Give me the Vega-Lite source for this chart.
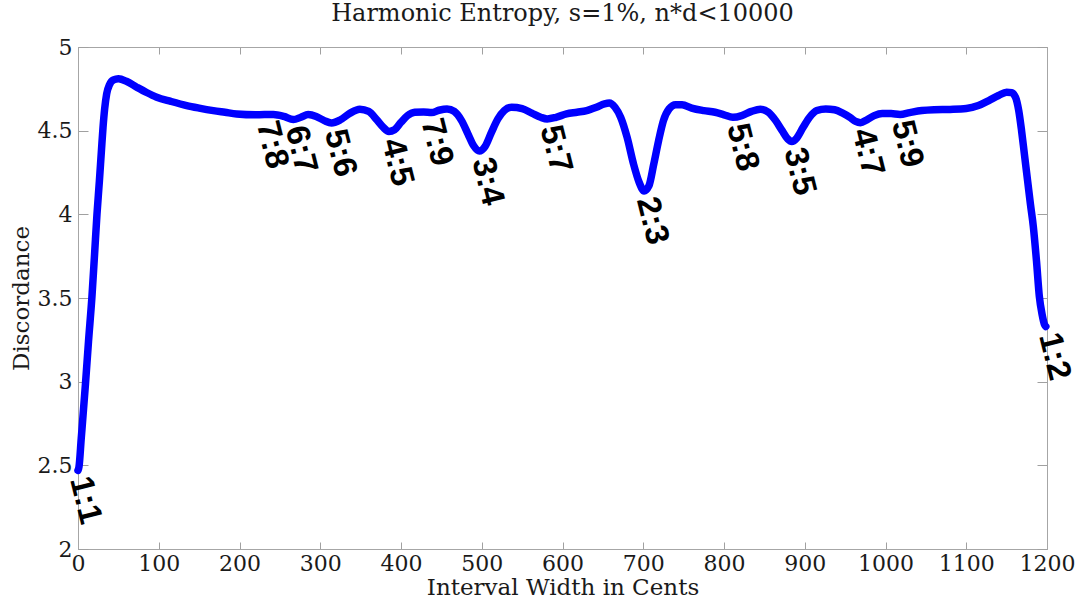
{
  "$schema": "https://vega.github.io/schema/vega-lite/v6.json",
  "width": 969,
  "height": 502,
  "autosize": "none",
  "padding": {"left": 78, "top": 47, "right": 38, "bottom": 54},
  "background": "white",
  "config": {
    "view": {"stroke": "#a6a6a6", "strokeWidth": 1},
    "axis": {
      "domainColor": "#a6a6a6",
      "tickColor": "#a0a0a0",
      "tickWidth": 1,
      "labelFont": "DejaVu Serif",
      "labelFontSize": 22,
      "labelColor": "#1a1a1a",
      "titleFont": "DejaVu Serif",
      "titleFontSize": 23,
      "titleFontWeight": "normal",
      "titleColor": "#1a1a1a",
      "grid": false
    }
  },
  "title": {
    "text": "Harmonic Entropy, s=1%, n*d<10000",
    "font": "DejaVu Serif",
    "fontSize": 24,
    "fontWeight": "normal",
    "color": "#1a1a1a",
    "anchor": "middle",
    "offset": 10
  },
  "datasets": {
    "curve": [
      {"c": 0, "v": 2.47}, {"c": 1.2, "v": 2.49}, {"c": 4, "v": 2.66}, {"c": 9.3, "v": 2.99},
      {"c": 13, "v": 3.24}, {"c": 17.3, "v": 3.51}, {"c": 20.5, "v": 3.76}, {"c": 23.5, "v": 4.0},
      {"c": 26.5, "v": 4.2}, {"c": 29, "v": 4.38}, {"c": 31, "v": 4.52}, {"c": 33, "v": 4.63},
      {"c": 35.5, "v": 4.72}, {"c": 39, "v": 4.775}, {"c": 44, "v": 4.803}, {"c": 50, "v": 4.81},
      {"c": 60, "v": 4.795}, {"c": 72.7, "v": 4.76}, {"c": 85, "v": 4.728}, {"c": 97.5, "v": 4.7},
      {"c": 115, "v": 4.675}, {"c": 134.6, "v": 4.65}, {"c": 150, "v": 4.635}, {"c": 167.6, "v": 4.62},
      {"c": 182, "v": 4.61}, {"c": 196.5, "v": 4.6}, {"c": 220, "v": 4.595}, {"c": 242, "v": 4.597},
      {"c": 255, "v": 4.585}, {"c": 266.7, "v": 4.566}, {"c": 276, "v": 4.58}, {"c": 285, "v": 4.596},
      {"c": 295, "v": 4.585}, {"c": 305, "v": 4.56}, {"c": 314, "v": 4.546}, {"c": 325, "v": 4.565},
      {"c": 337, "v": 4.605}, {"c": 349, "v": 4.628}, {"c": 360, "v": 4.615}, {"c": 370, "v": 4.565},
      {"c": 378, "v": 4.52}, {"c": 385, "v": 4.495}, {"c": 392, "v": 4.505}, {"c": 400, "v": 4.55},
      {"c": 408, "v": 4.59}, {"c": 417, "v": 4.61}, {"c": 428, "v": 4.612}, {"c": 438, "v": 4.608},
      {"c": 447, "v": 4.622}, {"c": 457, "v": 4.63}, {"c": 466, "v": 4.615}, {"c": 475, "v": 4.56},
      {"c": 483, "v": 4.48}, {"c": 490, "v": 4.41}, {"c": 497, "v": 4.378}, {"c": 504, "v": 4.405},
      {"c": 512, "v": 4.49}, {"c": 520, "v": 4.57}, {"c": 528, "v": 4.62}, {"c": 537, "v": 4.64},
      {"c": 550, "v": 4.632}, {"c": 562, "v": 4.605}, {"c": 573, "v": 4.58}, {"c": 581, "v": 4.57},
      {"c": 592, "v": 4.58}, {"c": 605, "v": 4.6}, {"c": 618, "v": 4.61}, {"c": 630, "v": 4.62},
      {"c": 642, "v": 4.64}, {"c": 652, "v": 4.66}, {"c": 658, "v": 4.665}, {"c": 665, "v": 4.64},
      {"c": 672, "v": 4.58}, {"c": 680, "v": 4.46}, {"c": 688, "v": 4.3}, {"c": 695, "v": 4.19},
      {"c": 701, "v": 4.14}, {"c": 707, "v": 4.17}, {"c": 713, "v": 4.3}, {"c": 719, "v": 4.44},
      {"c": 725, "v": 4.56}, {"c": 732, "v": 4.63}, {"c": 740, "v": 4.655}, {"c": 748, "v": 4.655},
      {"c": 760, "v": 4.635}, {"c": 775, "v": 4.62}, {"c": 789, "v": 4.61}, {"c": 800, "v": 4.595},
      {"c": 811, "v": 4.58}, {"c": 822, "v": 4.59}, {"c": 834, "v": 4.615}, {"c": 845, "v": 4.628},
      {"c": 855, "v": 4.61}, {"c": 864, "v": 4.56}, {"c": 872, "v": 4.5}, {"c": 879, "v": 4.45},
      {"c": 884, "v": 4.435}, {"c": 890, "v": 4.455}, {"c": 898, "v": 4.52}, {"c": 906, "v": 4.58},
      {"c": 915, "v": 4.62}, {"c": 926, "v": 4.63}, {"c": 937, "v": 4.625}, {"c": 947, "v": 4.605},
      {"c": 956, "v": 4.58}, {"c": 963, "v": 4.555}, {"c": 969, "v": 4.548}, {"c": 977, "v": 4.565},
      {"c": 986, "v": 4.59}, {"c": 996, "v": 4.603}, {"c": 1007, "v": 4.602}, {"c": 1018, "v": 4.597},
      {"c": 1030, "v": 4.608}, {"c": 1045, "v": 4.62}, {"c": 1060, "v": 4.625}, {"c": 1080, "v": 4.627},
      {"c": 1100, "v": 4.632}, {"c": 1115, "v": 4.65}, {"c": 1128, "v": 4.68}, {"c": 1140, "v": 4.71},
      {"c": 1150, "v": 4.73}, {"c": 1156, "v": 4.727}, {"c": 1161, "v": 4.7}, {"c": 1165, "v": 4.62},
      {"c": 1168.5, "v": 4.5}, {"c": 1172, "v": 4.36}, {"c": 1176, "v": 4.2}, {"c": 1179.5, "v": 4.06},
      {"c": 1183, "v": 3.93}, {"c": 1187, "v": 3.72}, {"c": 1190.5, "v": 3.51}, {"c": 1194, "v": 3.4},
      {"c": 1197, "v": 3.34}, {"c": 1198.5, "v": 3.33}
    ],
    "labels": [
      {"c": 0, "v": 2.47, "t": "1:1"},
      {"c": 231.2, "v": 4.595, "t": "7:8"},
      {"c": 266.9, "v": 4.566, "t": "6:7"},
      {"c": 315.6, "v": 4.546, "t": "5:6"},
      {"c": 386.3, "v": 4.49, "t": "4:5"},
      {"c": 435.1, "v": 4.61, "t": "7:9"},
      {"c": 498.0, "v": 4.375, "t": "3:4"},
      {"c": 582.5, "v": 4.57, "t": "5:7"},
      {"c": 702.0, "v": 4.14, "t": "2:3"},
      {"c": 813.7, "v": 4.58, "t": "5:8"},
      {"c": 884.4, "v": 4.435, "t": "3:5"},
      {"c": 968.8, "v": 4.55, "t": "4:7"},
      {"c": 1017.6, "v": 4.6, "t": "5:9"},
      {"c": 1200, "v": 3.33, "t": "1:2"}
    ]
  },
  "layer": [
    {
      "data": {"name": "curve"},
      "mark": {"type": "line", "color": "#0000ff", "strokeWidth": 7.5, "interpolate": "monotone", "strokeCap": "round", "strokeJoin": "round"},
      "encoding": {
        "x": {
          "field": "c", "type": "quantitative",
          "scale": {"domain": [0, 1200], "nice": false, "zero": false},
          "axis": {"orient": "bottom", "title": "Interval Width in Cents", "format": "d", "values": [0,100,200,300,400,500,600,700,800,900,1000,1100,1200], "tickSize": -7, "labelPadding": 11, "titlePadding": 2, "labelFlush": false, "labelOverlap": false}
        },
        "y": {
          "field": "v", "type": "quantitative",
          "scale": {"domain": [2, 5], "nice": false, "zero": false},
          "axis": {"orient": "left", "title": "Discordance", "format": "~g", "values": [2, 2.5, 3, 3.5, 4, 4.5, 5], "tickSize": -10, "labelPadding": 16, "titlePadding": 4, "labelFlush": false, "labelOverlap": false}
        }
      }
    },
    {
      "data": {"name": "labels"},
      "mark": {"type": "text", "font": "Liberation Sans", "fontWeight": "bold", "fontSize": 33, "angle": 76, "align": "left", "baseline": "middle", "dx": 7, "color": "#000000"},
      "encoding": {
        "x": {
          "field": "c", "type": "quantitative",
          "scale": {"domain": [0, 1200], "nice": false, "zero": false},
          "axis": {"orient": "top", "title": null, "labels": false, "values": [0,100,200,300,400,500,600,700,800,900,1000,1100,1200], "tickSize": -7, "domain": true}
        },
        "y": {
          "field": "v", "type": "quantitative",
          "scale": {"domain": [2, 5], "nice": false, "zero": false},
          "axis": {"orient": "right", "title": null, "labels": false, "values": [2, 2.5, 3, 3.5, 4, 4.5, 5], "tickSize": -10, "domain": true}
        },
        "text": {"field": "t", "type": "nominal"}
      }
    }
  ],
  "resolve": {"axis": {"x": "independent", "y": "independent"}}
}
